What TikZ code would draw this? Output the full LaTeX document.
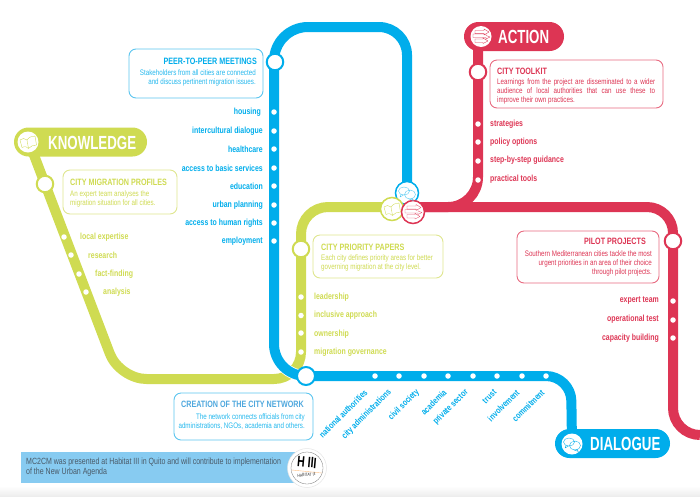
\documentclass[tikz,border=0pt]{standalone}
\usepackage{fontspec}
\setmainfont{Liberation Sans}
\newfontfamily\cond[FakeStretch=0.78]{Liberation Sans}
\newfontfamily\heavy[FakeStretch=0.70]{Liberation Sans}
\usetikzlibrary{backgrounds}
\definecolor{cblue}{HTML}{00ADEB}
\definecolor{cgreen}{HTML}{CFDB52}
\definecolor{cred}{HTML}{DD3554}
\definecolor{lblue}{HTML}{5CC5EF}
\definecolor{lgreen}{HTML}{DFE68F}
\definecolor{lred}{HTML}{E86A80}
\definecolor{sblue}{HTML}{4FA8DE}
\definecolor{barblue}{HTML}{87CBF1}
\definecolor{bartext}{HTML}{4A5A68}
\tikzset{
  x=1pt,y=-1pt,
  line/.style={line width=10pt,line cap=butt,line join=round},
  stop/.style={circle,draw=#1,fill=white,line width=2pt,minimum size=16.5pt,inner sep=0pt},
  hub/.style={circle,draw=#1,fill=white,line width=1.5pt,minimum size=23pt,inner sep=0pt},
  dot/.style={circle,fill=white,minimum size=5.5pt,inner sep=0pt},
  pill/.style={fill=#1,rounded corners=14.5pt,minimum height=29pt,inner sep=0pt},
  pillicon/.style={circle,fill=white,minimum size=21pt,inner sep=0pt},
  pilltext/.style={text=white,font=\heavy\bfseries\fontsize{19}{20}\selectfont,inner sep=0pt,anchor=west},
  box/.style={draw=#1,fill=white,line width=.9pt,rounded corners=7pt,inner sep=0pt},
  boxtitle/.style={font=\cond\bfseries\fontsize{9.2}{10}\selectfont,inner sep=0pt},
  boxbody/.style={font=\cond\fontsize{8}{9}\selectfont,inner sep=0pt},
  item/.style={font=\cond\bfseries\fontsize{8.9}{10}\selectfont,inner sep=0pt},
  bookpic/.pic={\draw[pic actions,line width=.35pt,line join=round]
    (-8,-2) -- (-6,5.5) .. controls (-3,4) and (-1,4.5) .. (0.5,6.5)
    .. controls (3,4) and (5,3) .. (8.5,3) -- (7,-6) .. controls (4,-6) and (1,-5) .. (-1,-2)
    .. controls (-3,-4) and (-6,-4) .. (-8,-2) (-1,-2) -- (0.5,6.5);},
  bubblepic/.pic={\draw[pic actions,line width=.35pt,line join=round]
    (-3,-2) ellipse [x radius=5.5,y radius=4]
    (-6,1.5) -- (-7,4) -- (-3.5,2)
    (3,1.5) ellipse [x radius=5.5,y radius=4.5]
    (5,5.5) -- (6.5,7.5) -- (2,6);},
  arrowpic/.pic={\draw[pic actions,line width=.35pt,line join=round]
    (-6,-6) -- (3,-6) -- (3,-7.5) -- (8,-4.5) -- (3,-1.5) -- (3,-3) -- (-6,-3) -- cycle
    (-8,-2.5) -- (5,-2.5) -- (5,-1) -- (9,0.5) -- (5,2.5) -- (5,1) -- (-8,1) -- cycle
    (-6,2.5) -- (2,2.5) -- (2,1.5) -- (7,4.5) -- (2,7) -- (2,6) -- (-6,6) -- cycle;},
}
\begin{document}
\begin{tikzpicture}
\useasboundingbox (0,0) rectangle (700,496);
\shade[top color=white,bottom color=black!7] (0,486) rectangle (700,496);

% stations
\node[stop=cgreen] (profiles) at (45,184) {};
\node[stop=cgreen] (priority) at (301,249) {};
\node[stop=cblue] (peer) at (275,62) {};
\node[stop=cblue,minimum size=18pt] (network) at (306,376) {};
\node[stop=cred] (toolkit) at (478,72) {};
\node[stop=cred] (pilot) at (673,241) {};
\coordinate (redexit) at (700,435);

% terminals
\node[pill=cgreen,minimum width=133pt] (knowledge) at (80.5,142) {};
\node[pill=cred,minimum width=100pt] (action) at (514,36.5) {};
\node[pill=cblue,minimum width=115pt] (dialogue) at (612.5,443.5) {};
\node[pillicon] (kicon) at (28,142) {};
\node[pillicon] (aicon) at (481,36.5) {};
\node[pillicon] (dicon) at (572,444) {};
\node[hub=cblue] (hubblue) at (407,193) {};
\node[hub=cgreen] (hubgreen) at (392,209) {};
\node[hub=cred] (hubred) at (413,212) {};

\begin{scope}[on background layer]
  \draw[line,cgreen] (29,142) [rounded corners=27pt] -- (119.5,379) -- (301,379) [rounded corners=27pt] -- (301,207) -- (hubgreen.center |- 0,207);
  \draw[line width=11.5pt,white,line cap=butt] (hubblue.center) [rounded corners=28pt] -- (407,27) [rounded corners=34pt] -- (274,27) [rounded corners=32pt] -- (274,376) -- (network.center);
  \draw[line,cblue] (hubblue.center) [rounded corners=28pt] -- (407,27) [rounded corners=34pt] -- (274,27) [rounded corners=32pt] -- (274,376) -- (network.center);
  \draw[line,cblue] (network.center) [rounded corners=25pt] -- (571,376) -- (dicon.center);
  \draw[line,cred] (aicon.center -| 478,0) [rounded corners=30pt] -- (478,207) -- (hubred.center |- 0,207);
  \draw[line,cred] (hubred.center |- 0,207) [rounded corners=26pt] -- (673,207) [rounded corners=27pt] -- (673,435) -- (redexit);
\end{scope}

% icons
\pic[draw=cgreen] at (kicon) {bookpic};
\pic[draw=cred] at (aicon) {arrowpic};
\pic[draw=cblue] at (dicon) {bubblepic};
\pic[draw=cblue!70] at (hubblue) {bubblepic};
\pic[draw=cgreen] at (hubgreen) {bookpic};
\pic[draw=cred!80] at (hubred) {arrowpic};

% terminal titles
\node[pilltext] (kt) at (48,142.5) {KNOWLEDGE};
\node[pilltext] (at) at (498,36.5) {ACTION};
\node[pilltext] (dt) at (590,444) {DIALOGUE};

% dots
\foreach \n/\x/\y in {g1/64/237,g2/71/255,g3/79/274,g4/86/292,
  p1/301/297,p2/301/315.5,p3/301/333,p4/301/352,
  b1/274/112,b2/274/131,b3/274/149,b4/274/168,b5/274/186,b6/274/205,b7/274/223,b8/274/241,
  n1/375/376,n2/399/376,n3/424/376,n4/448/376,n5/473/376,n6/497/376,n7/522/376,n8/546/376,
  r1/478/124,r2/478/142,r3/478/161,r4/478/180,
  s1/673/301,s2/673/320,s3/673/338}
  \node[dot] (\n) at (\x,\y) {};

% boxes
\node[box=lblue,minimum width=134pt,minimum height=49pt] (peerbox) at (196,73.5) {};
\node[boxtitle,text=cblue,anchor=east] (peert) at (257,61) {PEER-TO-PEER MEETINGS};
\node[boxbody,text=cblue!85,anchor=north east,align=right] (peerb) at (256,69.5) {Stakeholders from all cities are connected\\and discuss pertinent migration issues.};

\node[box=lgreen,minimum width=114pt,minimum height=44pt] (profbox) at (120,192) {};
\node[boxtitle,text=cgreen,anchor=west] (proft) at (70,182) {CITY MIGRATION PROFILES};
\node[boxbody,text=cgreen,anchor=north west,align=left] (profb) at (70,190) {An expert team analyses the\\migration situation for all cities.};

\node[box=lgreen,minimum width=130pt,minimum height=43pt] (pribox) at (378,256.5) {};
\node[boxtitle,text=cgreen,anchor=west] (prit) at (321,247) {CITY PRIORITY PAPERS};
\node[boxbody,text=cgreen,anchor=north west,align=left] (prib) at (321,254.5) {Each city defines priority areas for better\\governing migration at the city level.};

\node[box=lred,minimum width=173pt,minimum height=48pt] (toolbox) at (576.5,84) {};
\node[boxtitle,text=cred,anchor=west] (toolt) at (497,71) {CITY TOOLKIT};
\node[boxbody,text=cred,anchor=north west,align=left] (toolb) at (497,78.5) {\makebox[158pt][s]{Learnings from the project are disseminated to a wider}\\\makebox[158pt][s]{audience of local authorities that can use these to}\\improve their own practices.};

\node[box=lred,minimum width=142pt,minimum height=52pt] (pilotbox) at (588,257) {};
\node[boxtitle,text=cred,anchor=east] (pilott) at (646,241) {PILOT PROJECTS};
\node[boxbody,text=cred,anchor=north east,align=right] (pilotb) at (652,250.5) {Southern Mediterranean cities tackle the most\\urgent priorities in an area of their choice\\through pilot projects.};

\node[box=lblue,minimum width=139pt,minimum height=47pt] (netbox) at (243.5,416.5) {};
\node[boxtitle,text=sblue,anchor=east] (nett) at (304,404) {CREATION OF THE CITY NETWORK};
\node[boxbody,text=cblue!85,anchor=north east,align=right] (netb) at (305,413.5) {The network connects officials from city\\administrations, NGOs, academia and others.};

% item labels
\foreach \n/\x/\y/\t in {i1/80/237/local expertise,i2/88/255/research,i3/95/274/fact-finding,i4/103/292/analysis,
  i5/314/297/leadership,i6/314/315.5/inclusive approach,i7/314/334/ownership,i8/314/352/migration governance}
  \node[item,text=cgreen,anchor=west] (\n) at (\x,\y) {\t};
\foreach \n/\x/\y/\t in {j1/261/112/housing,j2/263/131/intercultural dialogue,j3/263/149/healthcare,j4/263/168/access to basic services,j5/263/186/education,j6/263/205/urban planning,j7/263/223/access to human rights,j8/263/241/employment}
  \node[item,text=cblue,anchor=east] (\n) at (\x,\y) {\t};
\foreach \n/\y/\t in {k1/124/strategies,k2/142/policy options,k3/160/step-by-step guidance,k4/179/practical tools}
  \node[item,text=cred,anchor=west] (\n) at (490,\y) {\t};
\foreach \n/\y/\t in {m1/301/expert team,m2/319/operational test,m3/338/capacity building}
  \node[item,text=cred,anchor=east] (\n) at (659,\y) {\t};
\foreach \n/\x/\t in {q1/366/national authorities,q2/390/city administrations,q3/418/civil society,q4/445/academia,q5/467/private sector,q6/495/trust,q7/518/involvement,q8/543/commitment}
  \node[item,text=cblue,anchor=east,rotate=45] (\n) at (\x,391) {\t};

% Habitat bar
\fill[barblue] (21,452) rectangle (295,483);
\node[font=\cond\fontsize{9}{10}\selectfont,text=bartext,anchor=north west,align=left,inner sep=0pt] (bart) at (26,458) {MC2CM was presented at Habitat III in Quito and will contribute to implementation\\of the New Urban Agenda};
\node[circle,fill=white,draw=black!10,line width=.5pt,minimum size=39pt,inner sep=0pt] (logo) at (307,468) {};
\draw[black!55,line width=.3pt] (logo.center) circle [radius=16];
\node[font=\heavy\bfseries\fontsize{15}{15}\selectfont,text=black,inner sep=0pt,rotate=-5] (logot) at (307,462.5) {H III};
\draw[orange!50,line width=.4pt] (292,470) -- (322,473);
\node[font=\cond\fontsize{4.5}{5}\selectfont,text=black!80,inner sep=0pt,rotate=5] (logob) at (306.5,475) {HABITAT III};
\end{tikzpicture}
\end{document}
